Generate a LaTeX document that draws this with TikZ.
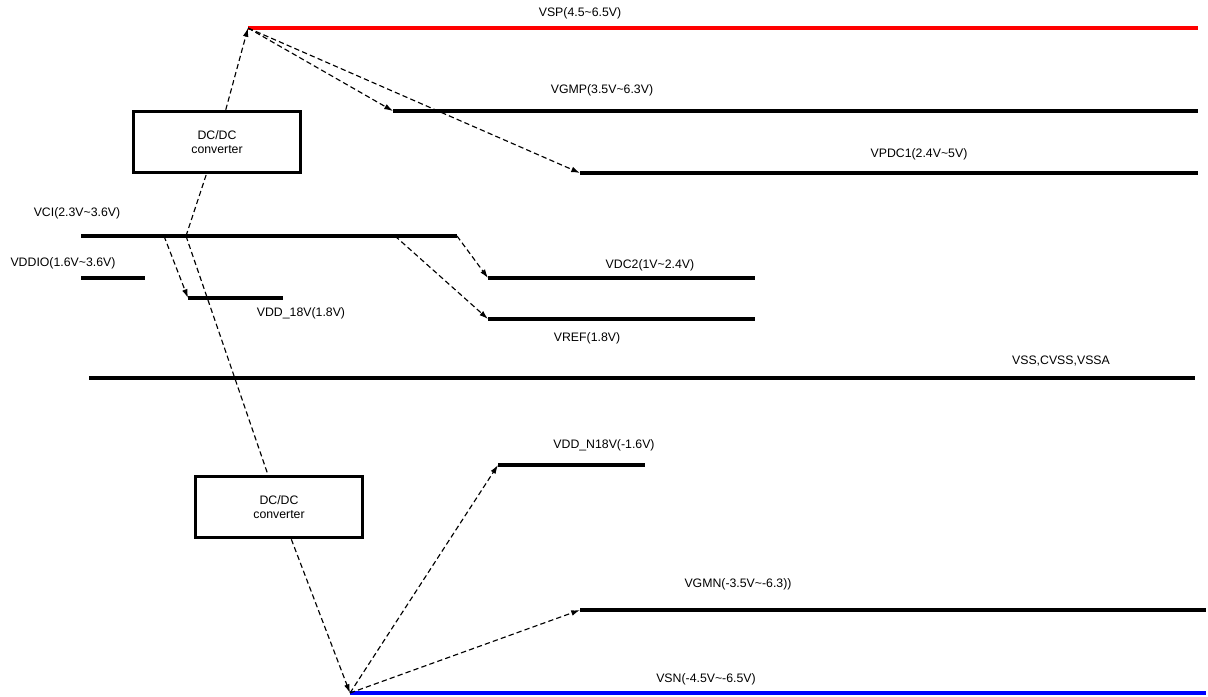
\documentclass[tikz,border=0pt]{standalone}
\usepackage{fontspec}
\setmainfont{Liberation Sans}
\usetikzlibrary{arrows.meta}
\begin{document}
\begin{tikzpicture}[x=0.02cm, y=-0.02cm,
  rail/.style={line width=2.2pt},
  conv/.style={draw, line width=2pt, minimum width=3.34cm, minimum height=1.22cm, align=center, font=\fontsize{7}{8.4}\selectfont, fill=white},
  feed/.style={-{Latex[length=5pt,width=3.2pt]}, dash pattern=on 3pt off 1.8pt, line width=0.65pt},
  link/.style={dash pattern=on 3pt off 1.8pt, line width=0.65pt},
  lbl/.style={font=\fontsize{7}{8.4}\selectfont, inner sep=0pt}
]
\useasboundingbox (0,0) rectangle (1208,697);

% Rail end points (left / right)
\coordinate (vspL)  at (248,28);  \coordinate (vspR)  at (1198,28);
\coordinate (vgmpL) at (393,111); \coordinate (vgmpR) at (1198,111);
\coordinate (vpdcL) at (580,173); \coordinate (vpdcR) at (1198,173);
\coordinate (vciL)  at (81,236);  \coordinate (vciR)  at (457,236);
\coordinate (vioL)  at (81,278);  \coordinate (vioR)  at (145,278);
\coordinate (v18L)  at (188,298); \coordinate (v18R)  at (283,298);
\coordinate (vdc2L) at (488,278); \coordinate (vdc2R) at (755,278);
\coordinate (vrefL) at (488,319); \coordinate (vrefR) at (755,319);
\coordinate (vssL)  at (89,378);  \coordinate (vssR)  at (1195,378);
\coordinate (vn18L) at (498,465); \coordinate (vn18R) at (645,465);
\coordinate (vgmnL) at (580,610); \coordinate (vgmnR) at (1206,610);
\coordinate (vsnL)  at (350,693); \coordinate (vsnR)  at (1206,693);

% Taps on VCI
\coordinate (tapA) at (186,236);
\coordinate (tapB) at (164,236);
\coordinate (tapC) at (395,236);

% Rails
\draw[rail, red]  (vspL) -- (vspR);
\draw[rail]       (vgmpL) -- (vgmpR);
\draw[rail]       (vpdcL) -- (vpdcR);
\draw[rail]       (vciL) -- (vciR);
\draw[rail]       (vioL) -- (vioR);
\draw[rail]       (v18L) -- (v18R);
\draw[rail]       (vdc2L) -- (vdc2R);
\draw[rail]       (vrefL) -- (vrefR);
\draw[rail]       (vssL) -- (vssR);
\draw[rail]       (vn18L) -- (vn18R);
\draw[rail]       (vgmnL) -- (vgmnR);
\draw[rail, blue] (vsnL) -- (vsnR);

% Rail labels
\node[lbl] (tvsp)  at (580,13)  {VSP(4.5\char`~6.5V)};
\node[lbl] (tvgmp) at (602,90)  {VGMP(3.5V\char`~6.3V)};
\node[lbl] (tvpdc) at (919,154) {VPDC1(2.4V\char`~5V)};
\node[lbl] (tvci)  at (77,213)  {VCI(2.3V\char`~3.6V)};
\node[lbl] (tvio)  at (63,263)  {VDDIO(1.6V\char`~3.6V)};
\node[lbl] (tv18)  at (301,313) {VDD\_18V(1.8V)};
\node[lbl] (tvdc2) at (650,265) {VDC2(1V\char`~2.4V)};
\node[lbl] (tvref) at (587,338) {VREF(1.8V)};
\node[lbl] (tvss)  at (1061,361) {VSS,CVSS,VSSA};
\node[lbl] (tvn18) at (604,445) {VDD\_N18V(-1.6V)};
\node[lbl] (tvgmn) at (738,584) {VGMN(-3.5V\char`~-6.3))};
\node[lbl] (tvsn)  at (706,679) {VSN(-4.5V\char`~-6.5V)};

% Converters
\node[conv] (pconv) at (217,142) {DC/DC\\converter};
\node[conv] (nconv) at (279,507) {DC/DC\\converter};

% Positive side
\draw[link] (tapA) -- (pconv);
\draw[feed] (pconv) -- (vspL);
\draw[feed] (vspL) -- (vgmpL);
\draw[feed] (vspL) -- (vpdcL);

% From VCI
\draw[feed] (tapB) -- (v18L);
\draw[feed] (vciR) -- (vdc2L);
\draw[feed] (tapC) -- (vrefL);

% Negative side
\draw[link] (tapA) -- (nconv);
\draw[feed] (nconv) -- (vsnL);
\draw[feed] (vsnL) -- (vn18L);
\draw[feed] (vsnL) -- (vgmnL);

\end{tikzpicture}
\end{document}
